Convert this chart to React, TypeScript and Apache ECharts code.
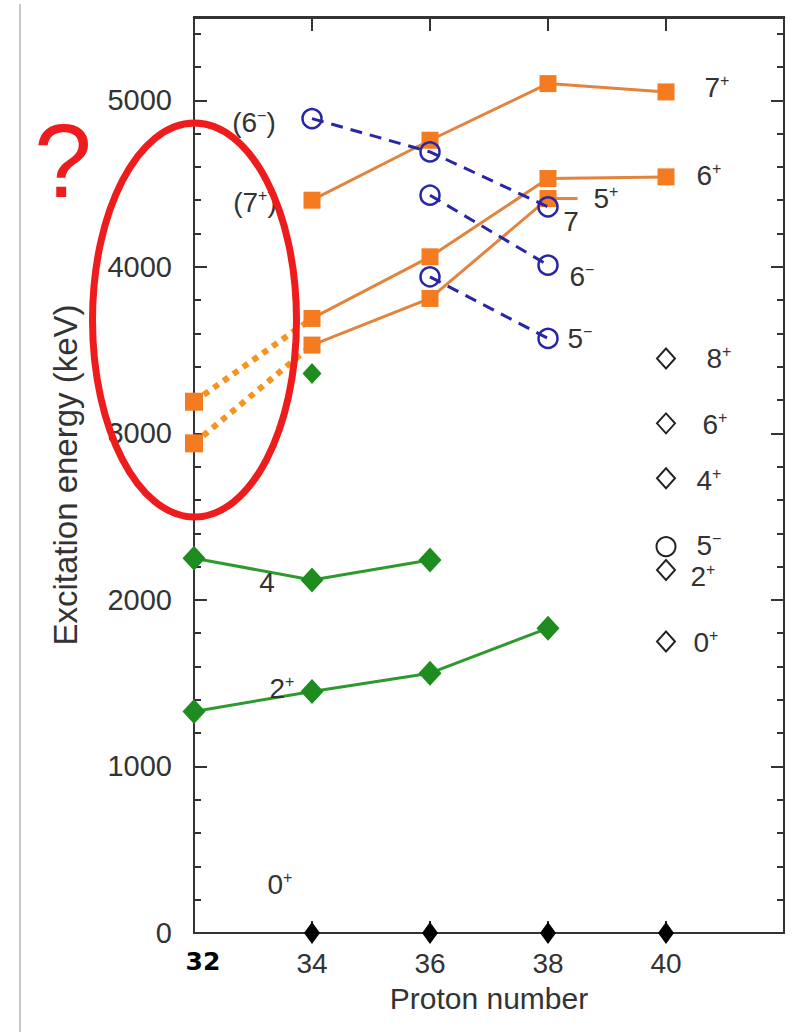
import React, { useEffect, useRef } from "react";
import * as echarts from "echarts";

// Excitation energies (keV) versus proton number Z
const protonRange = [32, 42];
const energyRange = [0, 5500];

const band7plus: [number, number][] = [[34, 4400], [36, 4760], [38, 5100], [40, 5050]];
const band6plus: [number, number][] = [[34, 3690], [36, 4060], [38, 4530], [40, 4540]];
const band5plus: [number, number][] = [[34, 3530], [36, 3810], [38, 4410], [38.5, 4410]];
const levels32: [number, number][] = [[32, 3190], [32, 2940]];
const link6plus: [number, number][] = [[32, 3190], [34, 3690]];
const link5plus: [number, number][] = [[32, 2940], [34, 3530]];
const band7minus: [number, number][] = [[34, 4890], [36, 4690], [38, 4360]];
const band6minus: [number, number][] = [[36, 4430], [38, 4010]];
const band5minus: [number, number][] = [[36, 3940], [38, 3570]];
const yrast4plus: [number, number][] = [[32, 2250], [34, 2120], [36, 2240]];
const yrast2plus: [number, number][] = [[32, 1330], [34, 1450], [36, 1560], [38, 1830]];
const extra34: [number, number][] = [[34, 3360]];
const groundStates: [number, number][] = [[34, 0], [36, 0], [38, 0], [40, 0]];

// Level scheme at Z = 40 (open symbols)
const zr40Spins = ["8", "6", "4", "5", "2", "0"];
const zr40Parities = ["+", "+", "+", "−", "+", "+"];
const zr40Energies = [3450, 3060, 2730, 2320, 2180, 1750];
const zr40Symbols = ["diamond", "diamond", "diamond", "circle", "diamond", "diamond"];
const zr40Offsets: [number, number][] = [[53, 0], [49, 1], [43, 2], [43, -1], [37, 7], [40, 1]];

const NARROW = "'Liberation Sans Narrow', 'Liberation Sans', Arial, sans-serif";
const SANS = "'Liberation Sans', Arial, sans-serif";

const RICH = {
  b: { fontSize: 28, fontFamily: NARROW, color: "#333", lineHeight: 30 },
  s: { fontSize: 16, fontFamily: NARROW, color: "#333", verticalAlign: "top", lineHeight: 16 },
};

const tag = (base: string, sup?: string, tail?: string) =>
  `{b|${base}}` + (sup ? `{s|${sup}}` : "") + (tail ? `{b|${tail}}` : "");

const withLabel = (p: [number, number], text: string, offset: [number, number]) => ({
  value: p,
  label: {
    show: true,
    position: "inside",
    offset,
    formatter: text,
    rich: RICH,
  },
});

const ORANGE = "#f47b20";
const ORANGE_LINE = "#e2843e";
const GREEN = "#1e8c1e";
const GREEN_LINE = "#2e9a2e";
const BLUE = "#2626a6";
const AXIS = "#333";

const GRID = { left: 194, right: 27, top: 17, bottom: 99 };
const WIDTH = 811;

export default function App() {
  const ref = useRef<HTMLDivElement>(null);

  useEffect(() => {
    if (!ref.current) return;
    const chart = echarts.init(ref.current, undefined, { renderer: "svg" });

    const tickStyle = { color: AXIS, width: 2 };

    const yBase = {
      type: "value" as const,
      min: energyRange[0],
      max: energyRange[1],
      splitLine: { show: false },
      axisLabel: { show: false },
    };

    const orangeBand = (data: any[]) => ({
      type: "line",
      data,
      symbol: "rect",
      symbolSize: 17,
      itemStyle: { color: ORANGE, opacity: 1 },
      lineStyle: { color: ORANGE_LINE, width: 3 },
      z: 3,
    });

    const blueBand = (data: any[]) => ({
      type: "line",
      data,
      symbol: "circle",
      symbolSize: 19,
      itemStyle: { color: "rgba(0,0,0,0)", borderColor: BLUE, borderWidth: 2.5, opacity: 1 },
      lineStyle: { color: BLUE, width: 3, type: [12, 8] },
      z: 5,
    });

    const greenBand = (data: any[]) => ({
      type: "line",
      data,
      symbol: "diamond",
      symbolSize: [23, 25],
      itemStyle: { color: GREEN, opacity: 1 },
      lineStyle: { color: GREEN_LINE, width: 3 },
      z: 3,
    });

    const dotted = (data: any[]) => ({
      type: "line",
      data,
      showSymbol: false,
      symbol: "none",
      lineStyle: { color: "#f7941d", width: 6, type: [6, 6], cap: "butt" },
      z: 2,
    });

    const zrData = zr40Energies.map((e, i) => ({
      value: [40, e],
      symbol: zr40Symbols[i],
      symbolSize: zr40Symbols[i] === "circle" ? 19 : [18, 20],
      label: {
        show: true,
        position: "inside",
        offset: zr40Offsets[i],
        formatter: tag(zr40Spins[i], zr40Parities[i]),
        rich: RICH,
      },
    }));

    chart.setOption({
      animation: false,
      grid: { ...GRID },
      xAxis: [
        {
          type: "value",
          min: protonRange[0],
          max: protonRange[1],
          interval: 2,
          position: "bottom",
          splitLine: { show: false },
          name: "Proton number",
          nameLocation: "middle",
          nameGap: 50,
          nameTextStyle: { fontSize: 30, fontFamily: SANS, color: AXIS },
          axisLine: { onZero: false, lineStyle: { color: AXIS, width: 2 } },
          axisTick: { inside: true, length: 12, lineStyle: tickStyle },
          axisLabel: {
            margin: 16,
            fontSize: 28,
            fontFamily: SANS,
            color: AXIS,
            formatter: (v: number) => (v === protonRange[0] ? `{z|${v}}` : v === protonRange[1] ? "" : String(v)),
            rich: {
              z: {
                fontSize: 25,
                fontFamily: "'DejaVu Sans', sans-serif",
                fontWeight: "bold",
                color: "#000",
                padding: [0, 0, 0, 18],
              },
            },
          },
        },
        {
          type: "value",
          min: protonRange[0],
          max: protonRange[1],
          interval: 2,
          position: "top",
          z: 50,
          splitLine: { show: false },
          axisLine: { onZero: false, lineStyle: { color: AXIS, width: 2.5 } },
          axisTick: { inside: true, length: 14, lineStyle: tickStyle },
          axisLabel: { show: false },
        },
      ],
      yAxis: [
        {
          ...yBase,
          position: "left",
          interval: 1000,
          name: "Excitation energy (keV)",
          nameLocation: "middle",
          nameRotate: 90,
          nameGap: 112,
          nameTextStyle: { fontSize: 33, fontFamily: SANS, color: AXIS },
          axisLine: { show: true, onZero: false, lineStyle: { color: AXIS, width: 2 } },
          axisTick: { show: true, inside: true, length: 13, lineStyle: tickStyle },
          axisLabel: {
            show: true,
            margin: 22,
            fontSize: 29,
            fontFamily: SANS,
            color: AXIS,
            formatter: (v: number) => (v > 5000 ? "" : String(v)),
          },
        },
        {
          ...yBase,
          position: "left",
          interval: 200,
          axisLine: { show: false, onZero: false },
          axisTick: { show: true, inside: true, length: 7, lineStyle: tickStyle },
        },
        {
          ...yBase,
          position: "right",
          interval: 1000,
          axisLine: { show: true, onZero: false, lineStyle: { color: AXIS, width: 2 } },
          axisTick: { show: true, inside: true, length: 13, lineStyle: tickStyle },
        },
        {
          ...yBase,
          position: "right",
          interval: 200,
          axisLine: { show: false, onZero: false },
          axisTick: { show: true, inside: true, length: 7, lineStyle: tickStyle },
        },
      ],
      series: [
        dotted(link6plus),
        dotted(link5plus),
        {
          type: "scatter",
          data: levels32,
          symbol: "rect",
          symbolSize: 18,
          itemStyle: { color: ORANGE, opacity: 1 },
          z: 4,
        },
        orangeBand([
          withLabel(band7plus[0], tag("(7", "+", ")"), [-57, 2]),
          band7plus[1],
          band7plus[2],
          withLabel(band7plus[3], tag("7", "+"), [51, -4]),
        ]),
        orangeBand([
          band6plus[0],
          band6plus[1],
          band6plus[2],
          withLabel(band6plus[3], tag("6", "+"), [43, -1]),
        ]),
        orangeBand([
          band5plus[0],
          band5plus[1],
          withLabel(band5plus[2], tag("5", "+"), [58, 0]),
          { value: band5plus[3], symbol: "none" },
        ]),
        greenBand([
          yrast4plus[0],
          withLabel(yrast4plus[1], tag("4"), [-45, 3]),
          yrast4plus[2],
        ]),
        greenBand([
          yrast2plus[0],
          withLabel(yrast2plus[1], tag("2", "+"), [-30, -3]),
          yrast2plus[2],
          yrast2plus[3],
        ]),
        {
          type: "scatter",
          data: extra34,
          symbol: "diamond",
          symbolSize: [19, 21],
          itemStyle: { color: GREEN, opacity: 1 },
          z: 4,
        },
        blueBand([
          withLabel(band7minus[0], tag("(6", "−", ")"), [-58, 4]),
          band7minus[1],
          withLabel(band7minus[2], tag("7"), [23, 15]),
        ]),
        blueBand([band6minus[0], withLabel(band6minus[1], tag("6", "−"), [34, 11])]),
        blueBand([band5minus[0], withLabel(band5minus[1], tag("5", "−"), [32, 0])]),
        {
          type: "scatter",
          data: zrData,
          itemStyle: { color: "#fff", borderColor: "#222", borderWidth: 2, opacity: 1 },
          z: 4,
        },
        {
          type: "scatter",
          data: [withLabel(groundStates[0], tag("0", "+"), [-32, -49]), ...groundStates.slice(1)],
          symbol: "diamond",
          symbolSize: [16, 22],
          itemStyle: { color: "#000", opacity: 1 },
          z: 6,
        },
      ],
      graphic: [
        {
          // page edge on the left
          type: "rect",
          shape: { x: 19, y: 4, width: 2, height: 1028 },
          style: { fill: "#c8c8c8" },
          z: 1000,
        },
        {
          // top edge of the plot frame
          type: "rect",
          shape: { x: GRID.left - 1, y: GRID.top - 1, width: WIDTH - GRID.right - GRID.left + 2, height: 3 },
          style: { fill: AXIS },
          z: 1000,
        },
        {
          type: "ellipse",
          shape: { cx: 194.5, cy: 320, rx: 102, ry: 197 },
          style: { fill: "none", stroke: "#ee1c1c", lineWidth: 7 },
          z: 100,
        },
        {
          type: "text",
          x: 63,
          y: 161,
          style: {
            text: "?",
            fontSize: 104,
            fontFamily: SANS,
            fill: "#ee1c1c",
            align: "center",
            verticalAlign: "middle",
          },
          z: 100,
        },
      ],
    });

    return () => chart.dispose();
  }, []);

  return (
    <div
      ref={ref}
      style={{ position: "absolute", left: 0, top: 0, width: 811, height: 1032, background: "#fff" }}
    />
  );
}
